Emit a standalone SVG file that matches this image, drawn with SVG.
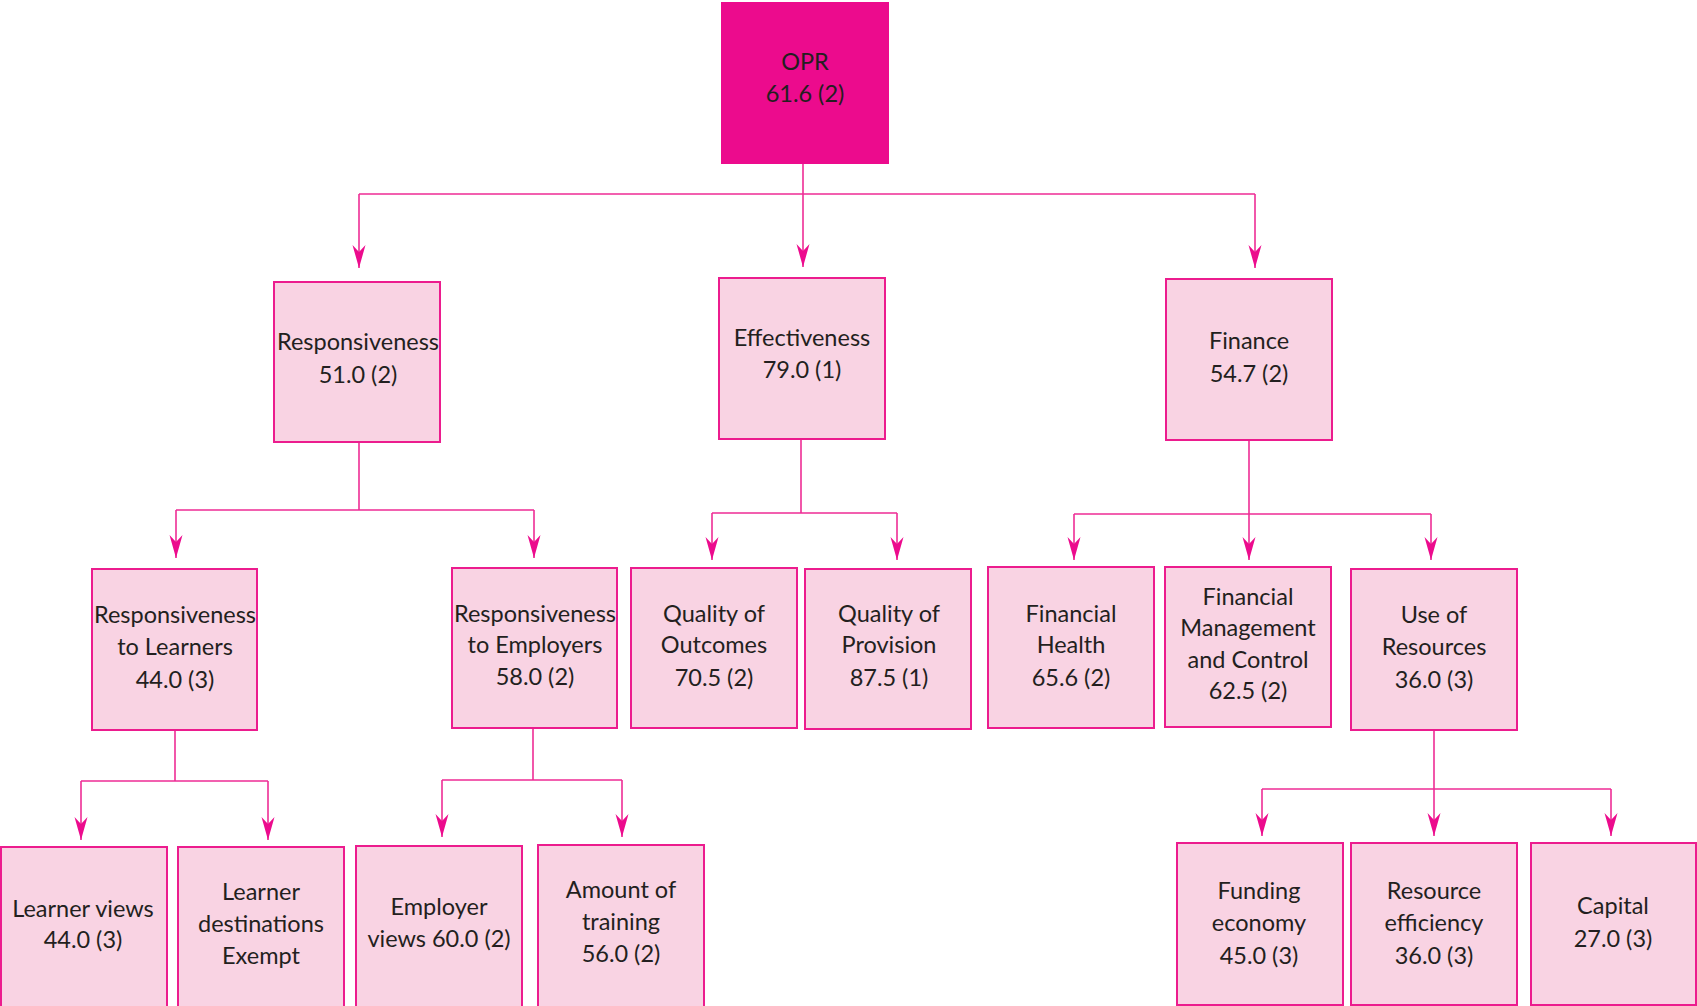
<svg xmlns="http://www.w3.org/2000/svg" width="1697" height="1006" viewBox="0 0 1697 1006">
<style>
.box{fill:#F9D3E3;stroke:#EC1C8E;stroke-width:2}
.root{fill:#EC0B8D;stroke:none}
text{font-family:Lato,"Open Sans",sans-serif;font-size:23.5px;fill:#231F20;text-anchor:middle}
.c{fill:none;stroke:#EE2D95;stroke-width:1.6}
.a{marker-end:url(#ah)}
</style>
<defs>
<marker id="ah" viewBox="-24 -8 26 16" refX="0" refY="0" markerWidth="26" markerHeight="16" markerUnits="userSpaceOnUse" orient="auto">
<path d="M0,0 L-23,-6.5 L-16,0 L-23,6.5 Z" fill="#EC0B8D"/>
</marker>
</defs>
<rect width="1697" height="1006" fill="#fff"/>
<g id="connectors">
<path class="c" d="M803,164 V194 M359,194 H1255"/>
<path class="c a" d="M803,194 V267"/>
<path class="c a" d="M359,194 V268"/>
<path class="c a" d="M1255,194 V268"/>
<path class="c" d="M359,442 V510 M176,510 H534"/>
<path class="c a" d="M176,510 V558"/>
<path class="c a" d="M534,510 V558"/>
<path class="c" d="M175,730 V781 M81,781 H268"/>
<path class="c a" d="M81,781 V840"/>
<path class="c a" d="M268,781 V840"/>
<path class="c" d="M533,728 V780 M442,780 H622"/>
<path class="c a" d="M442,780 V837"/>
<path class="c a" d="M622,780 V837"/>
<path class="c" d="M801,439 V513 M712,513 H897"/>
<path class="c a" d="M712,513 V560"/>
<path class="c a" d="M897,513 V560"/>
<path class="c" d="M1249,440 V514 M1074,514 H1431"/>
<path class="c a" d="M1074,514 V560"/>
<path class="c a" d="M1249,514 V560"/>
<path class="c a" d="M1431,514 V560"/>
<path class="c" d="M1434,730 V789 M1262,789 H1611"/>
<path class="c a" d="M1262,789 V836"/>
<path class="c a" d="M1434,789 V836"/>
<path class="c a" d="M1611,789 V836"/>
</g>
<g id="opr">
<rect class="root" x="721" y="2" width="168" height="162"/>
<text x="805" y="70">OPR</text>
<text x="805" y="102">61.6 (2)</text>
</g>
<g id="responsiveness">
<rect class="box" x="274" y="282" width="166" height="160"/>
<text x="358" y="350">Responsiveness</text>
<text x="358" y="383">51.0 (2)</text>
</g>
<g id="effectiveness">
<rect class="box" x="719" y="278" width="166" height="161"/>
<text x="802" y="346">Effectiveness</text>
<text x="802" y="378">79.0 (1)</text>
</g>
<g id="finance">
<rect class="box" x="1166" y="279" width="166" height="161"/>
<text x="1249" y="349">Finance</text>
<text x="1249" y="382">54.7 (2)</text>
</g>
<g id="resp-learners">
<rect class="box" x="92" y="569" width="165" height="161"/>
<text x="175" y="623">Responsiveness</text>
<text x="175" y="655">to Learners</text>
<text x="175" y="688">44.0 (3)</text>
</g>
<g id="resp-employers">
<rect class="box" x="452" y="568" width="165" height="160"/>
<text x="535" y="622">Responsiveness</text>
<text x="535" y="653">to Employers</text>
<text x="535" y="685">58.0 (2)</text>
</g>
<g id="quality-outcomes">
<rect class="box" x="631" y="568" width="166" height="160"/>
<text x="714" y="622">Quality of</text>
<text x="714" y="653">Outcomes</text>
<text x="714" y="686">70.5 (2)</text>
</g>
<g id="quality-provision">
<rect class="box" x="805" y="569" width="166" height="160"/>
<text x="889" y="622">Quality of</text>
<text x="889" y="653">Provision</text>
<text x="889" y="686">87.5 (1)</text>
</g>
<g id="financial-health">
<rect class="box" x="988" y="567" width="166" height="161"/>
<text x="1071" y="622">Financial</text>
<text x="1071" y="653">Health</text>
<text x="1071" y="686">65.6 (2)</text>
</g>
<g id="financial-management">
<rect class="box" x="1165" y="567" width="166" height="160"/>
<text x="1248" y="605">Financial</text>
<text x="1248" y="636">Management</text>
<text x="1248" y="668">and Control</text>
<text x="1248" y="699">62.5 (2)</text>
</g>
<g id="use-of-resources">
<rect class="box" x="1351" y="569" width="166" height="161"/>
<text x="1434" y="623">Use of</text>
<text x="1434" y="655">Resources</text>
<text x="1434" y="688">36.0 (3)</text>
</g>
<g id="learner-views">
<rect class="box" x="1" y="847" width="166" height="170"/>
<text x="83" y="917">Learner views</text>
<text x="83" y="948">44.0 (3)</text>
</g>
<g id="learner-destinations">
<rect class="box" x="178" y="847" width="166" height="170"/>
<text x="261" y="900">Learner</text>
<text x="261" y="932">destinations</text>
<text x="261" y="964">Exempt</text>
</g>
<g id="employer-views">
<rect class="box" x="356" y="846" width="166" height="171"/>
<text x="439" y="915">Employer</text>
<text x="439" y="947">views 60.0 (2)</text>
</g>
<g id="amount-training">
<rect class="box" x="538" y="845" width="166" height="172"/>
<text x="621" y="898">Amount of</text>
<text x="621" y="930">training</text>
<text x="621" y="962">56.0 (2)</text>
</g>
<g id="funding-economy">
<rect class="box" x="1177" y="843" width="166" height="162"/>
<text x="1259" y="899">Funding</text>
<text x="1259" y="931">economy</text>
<text x="1259" y="964">45.0 (3)</text>
</g>
<g id="resource-efficiency">
<rect class="box" x="1351" y="843" width="166" height="162"/>
<text x="1434" y="899">Resource</text>
<text x="1434" y="931">efficiency</text>
<text x="1434" y="964">36.0 (3)</text>
</g>
<g id="capital">
<rect class="box" x="1531" y="843" width="165" height="162"/>
<text x="1613" y="914">Capital</text>
<text x="1613" y="947">27.0 (3)</text>
</g>
</svg>
